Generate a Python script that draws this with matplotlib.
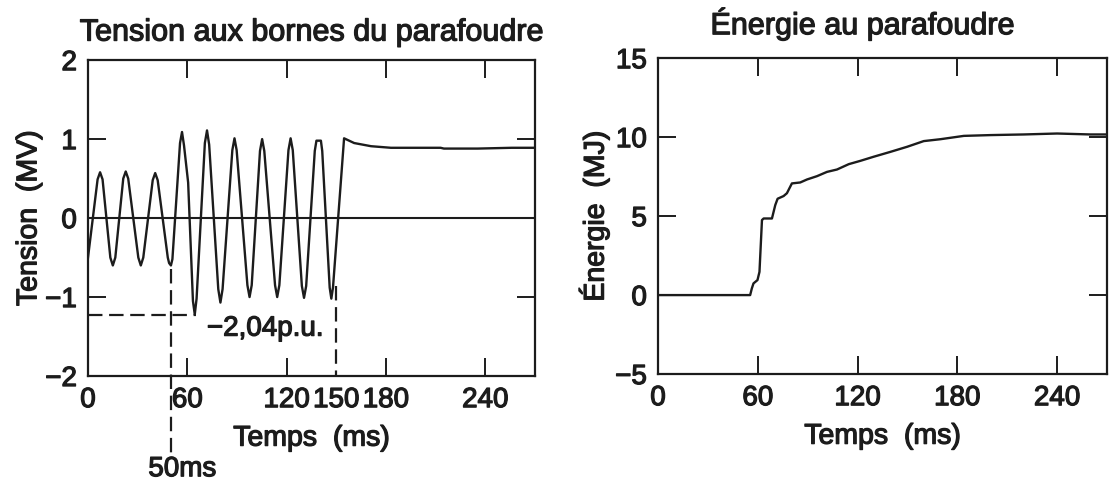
import matplotlib.pyplot as plt
import matplotlib.patheffects as pe

plt.rcParams['font.family'] = ['Liberation Sans', 'DejaVu Sans']

# Tension aux bornes du parafoudre (MV) en fonction du temps (ms)
t_tension = [0,
             5.8, 7.3, 8.8, 13.5, 15.0, 16.5, 21.3, 22.8, 24.3,
             30.4, 31.9, 33.4, 39.1, 40.6, 42.1,
             48.2, 49.0, 50.1, 51.0,
             55.6, 56.8, 58.0, 60.5, 63.4, 64.5, 65.6,
             70.6, 71.9, 73.2, 78.7, 80.0, 81.3,
             87.2, 88.5, 89.8, 96.3, 97.6, 98.9,
             103.9, 105.2, 106.5, 113.0, 114.3, 115.6,
             121.1, 122.4, 123.7, 129.2, 130.5, 131.8,
             137.0, 138.0, 140.7, 141.5, 146.0, 147.0, 148.0,
             154.7, 160.8, 171.0, 183.0, 213.0, 215.0, 235.5, 256.0, 270.0]
tension = [-0.50,
           0.49, 0.58, 0.49, -0.50, -0.60, -0.50, 0.50, 0.59, 0.50,
           -0.50, -0.60, -0.50, 0.48, 0.57, 0.48,
           -0.50, -0.57, -0.60, -0.52,
           0.95, 1.09, 0.92, 0.45, -1.05, -1.22, -1.02,
           0.95, 1.11, 0.93, -0.90, -1.07, -0.90,
           0.86, 1.01, 0.86, -0.85, -1.00, -0.85,
           0.85, 1.00, 0.85, -0.85, -1.00, -0.85,
           0.86, 1.01, 0.86, -0.86, -1.01, -0.86,
           0.85, 0.98, 0.98, 0.85, -0.88, -1.02, -0.88,
           1.01, 0.95, 0.91, 0.89, 0.89, 0.88, 0.88, 0.89, 0.89]

# Energie absorbee (MJ)
t_energie = [0, 55.4, 56.4, 57.4, 59.8, 61.0, 62.5, 63.5, 68.5, 70.5, 71.9, 75.5,
             77.5, 80.5, 85.5, 89.6, 95.6, 101.6, 107.6, 114.7, 121.7, 129.7,
             139.8, 149.8, 159.8, 169.9, 183.9, 200, 220, 240, 260, 270]
energie = [0, 0, 0.42, 0.74, 0.95, 1.47, 4.75, 4.85, 4.85, 5.7, 6.1, 6.27,
           6.45, 7.07, 7.13, 7.32, 7.53, 7.8, 7.95, 8.29, 8.5, 8.76,
           9.07, 9.39, 9.75, 9.87, 10.08, 10.13, 10.17, 10.23, 10.17, 10.17]

t_defaut = 50      # ms
t_ouverture = 150  # ms
v_min = -1.23      # MV
label_min = '−2,04p.u.'

ink = '#1c1c1c'
fs_tick = 20
fs_lab = 20.5
fs_title = 22
heavy = [pe.withStroke(linewidth=0.9, foreground=ink)]

fig = plt.figure(figsize=(11.11, 4.89), dpi=100)
ax1 = fig.add_axes([0.0792, 0.229, 0.4023, 0.646])
ax2 = fig.add_axes([0.5923, 0.233, 0.4041, 0.646])

for ax in (ax1, ax2):
    for s in ax.spines.values():
        s.set_linewidth(1.6)
        s.set_color(ink)
    ax.tick_params(which='major', direction='in', length=13, width=1.4, color=ink,
                   top=True, right=True, labelsize=fs_tick, pad=8)
    ax.set_xlim(0, 270)
    ax.set_xlabel('Temps  (ms)', fontsize=fs_lab, labelpad=9)

# --- tension ---
ax1.plot(t_tension, tension, color=ink, lw=1.7)
ax1.axhline(0, color=ink, lw=1.5)
ax1.set_ylim(-2, 2)
ax1.set_yticks([-2, -1, 0, 1, 2])
ax1.set_xticks([0, 60, 120, 180, 240])
ax1.set_xticks([t_ouverture], minor=True)
ax1.set_xticklabels([str(t_ouverture)], minor=True)
ax1.tick_params(which='minor', length=0, labelsize=fs_tick, pad=8)
ax1.set_ylabel('Tension  (MV)', fontsize=fs_lab, labelpad=2)

dash = dict(color=ink, lw=1.6, ls=(0, (6.5, 3)))
ax1.plot([t_defaut, t_defaut], [-0.65, -3.0], clip_on=False, **dash)
ax1.plot([t_ouverture, t_ouverture], [-0.86, -2.0], **dash)
ax1.plot([0, 65], [v_min, v_min], **dash)
ax1.text(107, -1.40, label_min, fontsize=fs_tick, ha='center', va='center')
ax1.text(57, -3.18, f'{t_defaut}ms', fontsize=fs_tick, ha='center', va='center')

# --- energie ---
ax2.plot(t_energie, energie, color=ink, lw=1.7)
ax2.set_ylim(-5, 15)
ax2.set_yticks([-5, 0, 5, 10, 15])
ax2.set_xticks([0, 60, 120, 180, 240])
ax2.set_ylabel('Énergie  (MJ)', fontsize=fs_lab, labelpad=4)

fig.text(0.28, 0.915, 'Tension aux bornes du parafoudre', fontsize=fs_title,
         ha='center', va='baseline')
fig.text(0.776, 0.928, 'Énergie au parafoudre', fontsize=fs_title,
         ha='center', va='baseline')

# trait un peu plus gras pour tous les textes
for t in fig.findobj(plt.Text):
    t.set_path_effects(heavy)
    t.set_color(ink)

fig.savefig('out.png', dpi=100)
